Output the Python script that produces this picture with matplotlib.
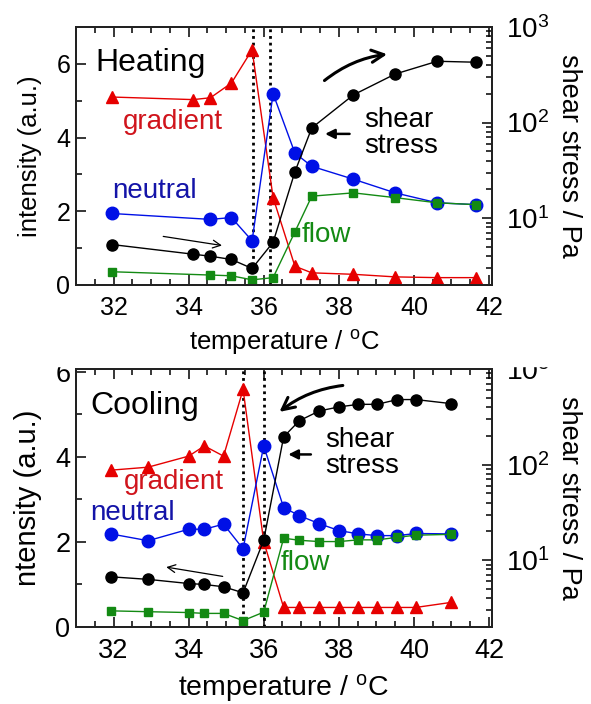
import matplotlib
matplotlib.use("Agg")
import matplotlib.pyplot as plt
from matplotlib.patches import Rectangle
from matplotlib.ticker import MultipleLocator, LogLocator, NullFormatter

plt.rcParams["font.family"] = ["Liberation Sans", "DejaVu Sans"]
plt.rcParams["mathtext.default"] = "regular"

RED = "#e60000"
BLUE = "#0010e6"
GREEN = "#138a13"

# heating run (temperature in degC, intensities a.u., shear stress Pa)
heat_t = [31.96, 34.12, 34.58, 35.14, 35.69, 36.25, 36.83, 37.28, 38.39, 39.50, 40.62, 41.66]
heat_gradient = [5.10, 5.03, 5.08, 5.48, 6.38, 2.37, 0.51, 0.33, 0.29, 0.22, 0.20, 0.20]
heat_stress = [5.3, 4.2, 4.0, 3.7, 2.98, 5.6, 30.5, 88, 195, 322, 438, 428]
heat_t2 = [31.96, 34.58, 35.14, 35.69, 36.25, 36.83, 37.28, 38.39, 39.50, 40.62, 41.66]
heat_neutral = [1.94, 1.78, 1.83, 1.20, 5.19, 3.58, 3.22, 2.87, 2.50, 2.23, 2.18]
heat_flow = [0.36, 0.27, 0.25, 0.14, 0.20, 1.44, 2.41, 2.50, 2.37, 2.23, 2.18]
heat_transitions = [35.71, 36.16]

# cooling run
cool_t = [31.93, 32.92, 34.00, 34.42, 34.93, 35.45, 36.00, 36.53,
          36.95, 37.48, 38.00, 38.52, 39.02, 39.56, 40.05, 41.00]
cool_gradient = [3.69, 3.76, 4.02, 4.26, 4.02, 5.59, 2.01, 0.46,
                 0.46, 0.46, 0.46, 0.46, 0.46, 0.46, 0.46, 0.58]
cool_neutral = [2.19, 2.03, 2.30, 2.30, 2.42, 1.84, 4.26, 2.81,
                2.62, 2.43, 2.27, 2.19, 2.15, 2.15, 2.20, 2.19]
cool_flow = [0.38, 0.36, 0.34, 0.32, 0.32, 0.15, 0.35, 2.09,
             2.04, 2.01, 2.01, 2.05, 2.05, 2.11, 2.16, 2.18]
cool_stress = [6.7, 6.3, 5.7, 5.57, 5.27, 4.56, 16.2, 195,
               288, 364, 401, 427, 427, 479, 479, 434]
cool_transitions = [35.45, 36.00]

fig = plt.figure(figsize=(5.91, 7.04), dpi=100)
W, H = 591.0, 704.0


def make_panel(rect_px, ymax, fs):
    left, top, right, bottom = rect_px
    ax = fig.add_axes([left / W, 1 - bottom / H, (right - left) / W, (bottom - top) / H])
    ax2 = ax.twinx()
    ax.set_xlim(31, 42.08)
    ax.set_ylim(0, ymax)
    ax2.set_yscale("log")
    ax2.set_ylim(2, 1000)
    ax.xaxis.set_major_locator(MultipleLocator(2))
    ax.xaxis.set_minor_locator(MultipleLocator(0.5))
    ax.yaxis.set_major_locator(MultipleLocator(2))
    ax.yaxis.set_minor_locator(MultipleLocator(1))
    ax2.yaxis.set_major_locator(LogLocator(base=10, numticks=10))
    ax2.yaxis.set_minor_locator(LogLocator(base=10, subs=range(2, 10), numticks=20))
    ax2.yaxis.set_minor_formatter(NullFormatter())
    ax.tick_params(axis="x", which="both", direction="in", top=True, bottom=True,
                   labelsize=fs["tick"], pad=8, width=1.1)
    ax.tick_params(axis="y", which="both", direction="in", left=True, right=False,
                   labelsize=fs["tick"], pad=4, width=1.1)
    ax2.tick_params(axis="y", which="both", direction="in", labelsize=fs["rtick"], pad=10, width=1.1)
    for a in (ax, ax2):
        a.tick_params(which="major", length=7)
        a.tick_params(which="minor", length=4)
        for s in a.spines.values():
            s.set_linewidth(1.4)
            s.set_color("#222222")
    ax.set_xlabel("temperature / $^{o}$C", fontsize=fs["xlabel"], labelpad=6)
    ax2.set_ylabel("shear stress / Pa", fontsize=fs["rlabel"], rotation=270,
                   va="bottom", ha="center")
    ax2.yaxis.set_label_coords(1.155, 0.5)
    return ax, ax2


fs_top = {"tick": 18, "rtick": 20, "xlabel": 18.5, "rlabel": 19.5}
fs_bot = {"tick": 19.5, "rtick": 20.5, "xlabel": 20.5, "rlabel": 19.5}

# ---- heating panel ----
ax, ax2 = make_panel((76, 27, 492, 285), 7, fs_top)
ax.set_ylabel("intensity (a.u.)", fontsize=18.5)
ax.yaxis.set_label_coords(-0.082, 0.5)
for xv in heat_transitions:
    ax.axvline(xv, color="black", linestyle=(0, (1, 1.4)), lw=2, zorder=1)
ax.plot(heat_t, heat_gradient, color=RED, lw=1, marker="^", ms=9, zorder=3)
ax.plot(heat_t2, heat_neutral, color=BLUE, lw=1, marker="o", ms=9, zorder=3)
ax.plot(heat_t2, heat_flow, color=GREEN, lw=1, marker="s", ms=5.5, zorder=3)
ax2.plot(heat_t, heat_stress, color="black", lw=1, marker="o", ms=8, zorder=4)

ax.text(31.51, 5.8, "Heating", fontsize=23)
ax.text(32.26, 4.24, "gradient", fontsize=20, color="#d0141c")
ax.text(31.96, 2.35, "neutral", fontsize=20, color="#1414a8")
ax.text(37.02, 1.17, "flow", fontsize=20, color=GREEN)
ax.text(38.67, 4.29, "shear", fontsize=20)
ax.text(38.67, 3.58, "stress", fontsize=20)
ax.annotate("", xy=(37.56, 4.1), xytext=(38.36, 4.1),
            arrowprops=dict(arrowstyle="-|>", lw=1.8, color="black", mutation_scale=14))
ax.annotate("", xy=(34.96, 1.06), xytext=(33.25, 1.33),
            arrowprops=dict(arrowstyle="->", lw=0.9, color="black", mutation_scale=14))
ax.annotate("", xy=(39.36, 6.27), xytext=(37.56, 5.5),
            arrowprops=dict(arrowstyle="->", lw=2.2, color="black", mutation_scale=22,
                            connectionstyle="arc3,rad=-0.15"))

# ---- cooling panel ----
bx, bx2 = make_panel((76, 369, 492, 627), 6.07, fs_bot)
bx.set_ylabel("ntensity (a.u.)", fontsize=21)
bx.yaxis.set_label_coords(-0.082, 0.5)
for xv in cool_transitions:
    bx.axvline(xv, color="black", linestyle=(0, (1, 1.4)), lw=2, zorder=1)
bx.plot(cool_t, cool_gradient, color=RED, lw=1, marker="^", ms=9, zorder=3)
bx.plot(cool_t, cool_neutral, color=BLUE, lw=1, marker="o", ms=9, zorder=3)
bx.plot(cool_t, cool_flow, color=GREEN, lw=1, marker="s", ms=5.5, zorder=3)
bx2.plot(cool_t, cool_stress, color="black", lw=1, marker="o", ms=8, zorder=4)

bx.text(31.38, 5.0, "Cooling", fontsize=23)
bx.text(32.27, 3.24, "gradient", fontsize=20, color="#d0141c")
bx.text(31.38, 2.52, "neutral", fontsize=20, color="#1414a8")
bx.text(36.45, 1.34, "flow", fontsize=20, color=GREEN)
bx.text(37.65, 4.23, "shear", fontsize=20)
bx.text(37.65, 3.62, "stress", fontsize=20)
bx.annotate("", xy=(36.58, 4.06), xytext=(37.33, 4.06),
            arrowprops=dict(arrowstyle="-|>", lw=1.8, color="black", mutation_scale=14))
bx.annotate("", xy=(33.33, 1.42), xytext=(34.98, 1.18),
            arrowprops=dict(arrowstyle="->", lw=0.9, color="black", mutation_scale=14))
bx.annotate("", xy=(36.36, 5.02), xytext=(38.18, 5.69),
            arrowprops=dict(arrowstyle="->", lw=2.2, color="black", mutation_scale=22,
                            connectionstyle="arc3,rad=0.15"))

# the lower panel was cropped at its top edge in the original figure
for x0, x1 in ((0, 76), (492, 591)):
    fig.add_artist(Rectangle((x0 / W, 1 - 366 / H), (x1 - x0) / W, 26 / H,
                             transform=fig.transFigure, color="white", zorder=20))

fig.savefig("out.png", dpi=100)
